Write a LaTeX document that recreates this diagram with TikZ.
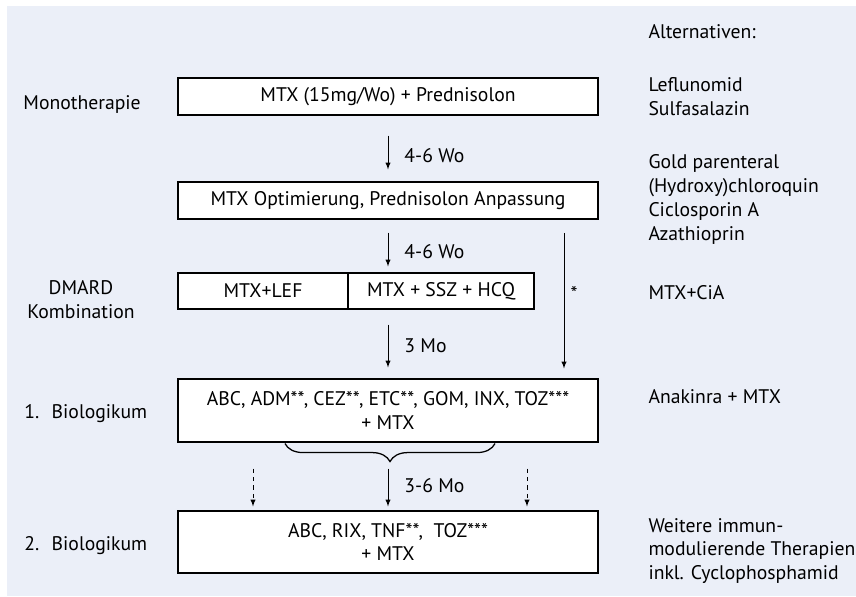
\documentclass[tikz,border=0pt]{standalone}
\usepackage{fontspec}
\setmainfont{PT Sans}
\usetikzlibrary{decorations.pathreplacing}
\definecolor{bgblue}{RGB}{235,239,248}
\begin{document}
\begin{tikzpicture}[font=\fontsize{14}{17}\selectfont,line width=0.7pt,
  box/.style={draw,fill=white,line width=0.8pt,minimum height=0.925cm,inner sep=0pt,align=center},
  wide/.style={box,minimum width=10.5cm},
  dur/.style={right,xshift=0.4cm,inner sep=0pt},
  alt/.style={anchor=west,align=left,inner sep=0pt},
  stage/.style={anchor=west,inner sep=0pt}]
\useasboundingbox (0,0) rectangle (21.4,14.9);
\fill[bgblue] (0.175,0) rectangle (21.4,14.75);
% steps
\node[wide] (mono) at (9.7,12.4875) {MTX (15mg/Wo) + Prednisolon};
\node[wide] (opt) at (9.7,9.8875) {MTX Optimierung, Prednisolon Anpassung};
\node[box,minimum width=4.25cm,minimum height=0.9cm] (lef) at (6.575,7.625) {MTX+LEF};
\node[box,minimum width=4.65cm,minimum height=0.9cm] (ssz) at (11.025,7.625) {MTX + SSZ + HCQ};
\node[wide,minimum height=1.575cm] (bio1) at (9.7,4.6375) {ABC, ADM**, CEZ**, ETC**, GOM, INX, TOZ***\\+ MTX};
\node[wide,minimum height=1.55cm] (bio2) at (9.7,1.35) {ABC, RIX, TNF**,~ TOZ***\\+ MTX};
% stages
\node[stage] (s1) at (0.575,12.275) {Monotherapie};
\node[align=center,inner sep=0pt] (s2) at (2.025,7.4125) {DMARD\\Kombination};
\node[stage] (s3) at (0.6,4.55) {1.~ Biologikum};
\node[stage] (s4) at (0.6,1.25) {2.~ Biologikum};
% alternatives
\node[alt] (a0) at (16.2,14.1) {Alternativen:};
\node[alt] (a1) at (16.2,12.475) {Leflunomid\\Sulfasalazin};
\node[alt] (a2) at (16.2,9.9125) {Gold parenteral\\(Hydroxy)chloroquin\\Ciclosporin A\\Azathioprin};
\node[alt] (a3) at (16.2,7.575) {MTX+CiA};
\node[alt] (a4) at (16.2,4.975) {Anakinra + MTX};
\node[alt] (a5) at (16.2,1.125) {Weitere immun-\\modulierende Therapien\\inkl. Cyclophosphamid};
% arrows
\draw[-latex] ([yshift=-0.5cm]mono.south) -- ([yshift=0.3cm]opt.north) node[dur,pos=0.6] (d1) {4-6 Wo};
\draw[-latex] ([yshift=-0.325cm]opt.south) -- ([yshift=0.15cm]opt.south |- ssz.north) node[dur,pos=0.55] (d2) {4-6 Wo};
\draw[-latex] ([yshift=-0.375cm]opt.south |- ssz.south) -- ([yshift=0.275cm]bio1.north) node[dur,pos=0.5] (d3) {3 Mo};
\coordinate (sk) at (14.1,9.075);
\draw[-latex] (sk) -- ([yshift=0.25cm]sk |- bio1.north) node[right,pos=0.45,xshift=0.15cm,inner sep=0pt] (st) {*};
\draw[decorate,decoration={brace,mirror,amplitude=0.45cm},line width=0.9pt] ([xshift=-2.575cm,yshift=-0.025cm]bio1.south) -- ([xshift=2.675cm,yshift=-0.025cm]bio1.south);
\draw[-latex] ([yshift=-0.65cm]bio1.south) -- ([yshift=0.1cm]bio2.north) node[dur,pos=0.45] (d4) {3-6 Mo};
\draw[-latex,dashed] ([xshift=-3.375cm,yshift=-0.65cm]bio1.south) -- ([xshift=-3.375cm,yshift=0.1cm]bio2.north);
\draw[-latex,dashed] ([xshift=3.475cm,yshift=-0.65cm]bio1.south) -- ([xshift=3.475cm,yshift=0.1cm]bio2.north);
\end{tikzpicture}
\end{document}
